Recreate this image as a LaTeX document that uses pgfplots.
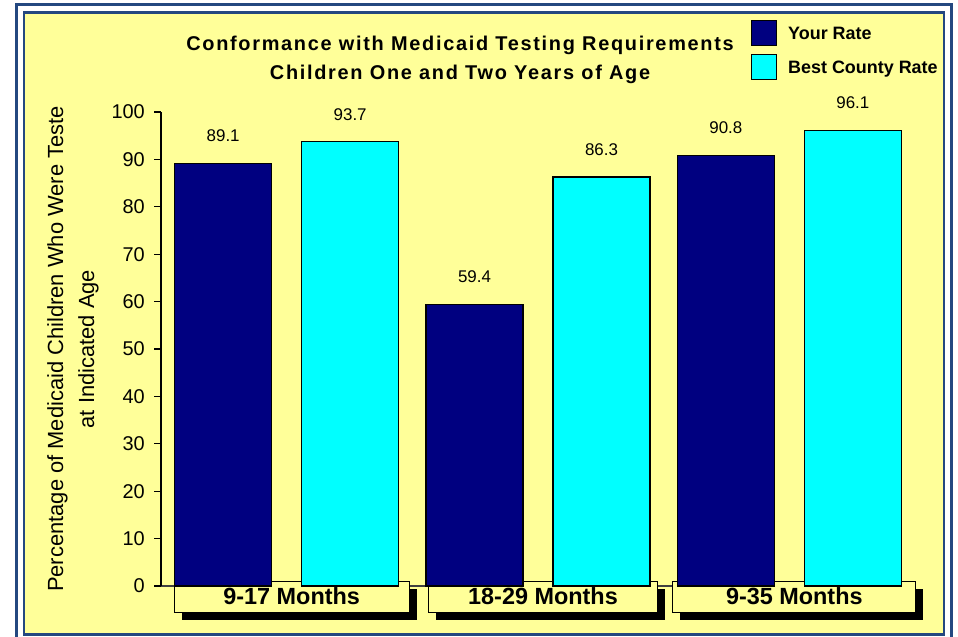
\documentclass[border=0pt]{standalone}
\usepackage{fontspec}
\setmainfont{Liberation Sans}
\newfontfamily\titlefont[LetterSpace=8.5]{Liberation Sans}
\usepackage{pgfplots}
\pgfplotsset{compat=1.18}
\usetikzlibrary{shadows}
\definecolor{bgyellow}{RGB}{255,255,153}
\definecolor{frameblue}{RGB}{36,72,128}
\definecolor{navybar}{RGB}{0,0,128}
\definecolor{cyanbar}{RGB}{0,255,255}

\pgfplotstableread{
x your best
0 89.1 93.7
1 59.4 86.3
2 90.8 96.1
}\ratedata

\begin{document}
\begin{tikzpicture}
\useasboundingbox (0,0) rectangle (958bp,637bp);
\fill[white] (0,0) rectangle (958bp,637bp);
\draw[frameblue, line width=2.6bp] (16.3bp,-3bp) rectangle (951.3bp,632.5bp);
\filldraw[fill=bgyellow, draw=frameblue, line width=2.6bp] (24bp,2.7bp) rectangle (944bp,624.7bp);
\begin{axis}[
  at={(161bp,51bp)}, anchor=south west,
  scale only axis, width=754bp, height=474bp,
  xmin=-0.5, xmax=2.5, ymin=0, ymax=100,
  clip=false,
  ybar=30bp, bar width=97bp,
  axis x line*=bottom, axis y line*=left,
  x axis line style={-, draw=black!75, line width=1.2bp},
  y axis line style={-, black, line width=1.3bp},
  tick align=outside, major tick length=7bp,
  ytick={0,10,...,100},
  ytick style={black, line width=1.3bp},
  xtick={0,1,2}, xtick style={draw=none},
  xticklabels={{\makebox[235bp]{9-17 Months}},{\makebox[229bp]{18-29 Months}},{\makebox[243bp]{9-35 Months}}},
  xticklabel style={draw=black, line width=1bp, fill=bgyellow,
     drop shadow={shadow xshift=7.5bp, shadow yshift=-7.5bp, fill=black, opacity=1},
     inner xsep=0pt, inner ysep=5bp, text height=17bp, text depth=2bp, minimum height=31bp,
     anchor=north, xshift=5bp, yshift=12bp,
     font=\fontsize{23.5}{28}\selectfont\bfseries},
  yticklabel style={font=\fontsize{20}{24}\selectfont, inner xsep=0pt, xshift=-9bp},
  /pgf/number format/assume math mode=true,
  ylabel={Percentage of Medicaid Children Who Were Teste\\at Indicated Age},
  ylabel style={align=center, font=\fontsize{22}{31}\selectfont, at={(axis description cs:-0.1167,0.5)}, anchor=center},
  title={Conformance with Medicaid Testing Requirements\\Children One and Two Years of Age},
  title style={align=center, font=\titlefont\fontsize{20}{29}\selectfont\bfseries, at={(axis description cs:0.3966,1.1476)}, anchor=north, inner sep=0pt},
  nodes near coords,
  every node near coord/.append style={font=\fontsize{17}{20}\selectfont, inner sep=0pt, yshift=21bp, black},
  legend image code/.code={\draw[#1, draw=black, line width=1bp] (0bp,-6bp) rectangle (25bp,19bp);},
  legend style={draw=none, fill=none, at={(axis description cs:0.7825,1.1941)}, anchor=north west,
     inner sep=0pt, row sep=7.5bp, column sep=11bp, nodes={inner sep=0pt, anchor=base west},
     font=\fontsize{18}{22}\selectfont\bfseries},
  legend cell align=left,
]
\addplot[fill=navybar, draw=black, line width=1.2bp] table[x=x, y=your] {\ratedata};
\addplot[fill=cyanbar, draw=black, line width=1.2bp] table[x=x, y=best] {\ratedata};
\legend{Your Rate, Best County Rate}
\end{axis}
\end{tikzpicture}
\end{document}
